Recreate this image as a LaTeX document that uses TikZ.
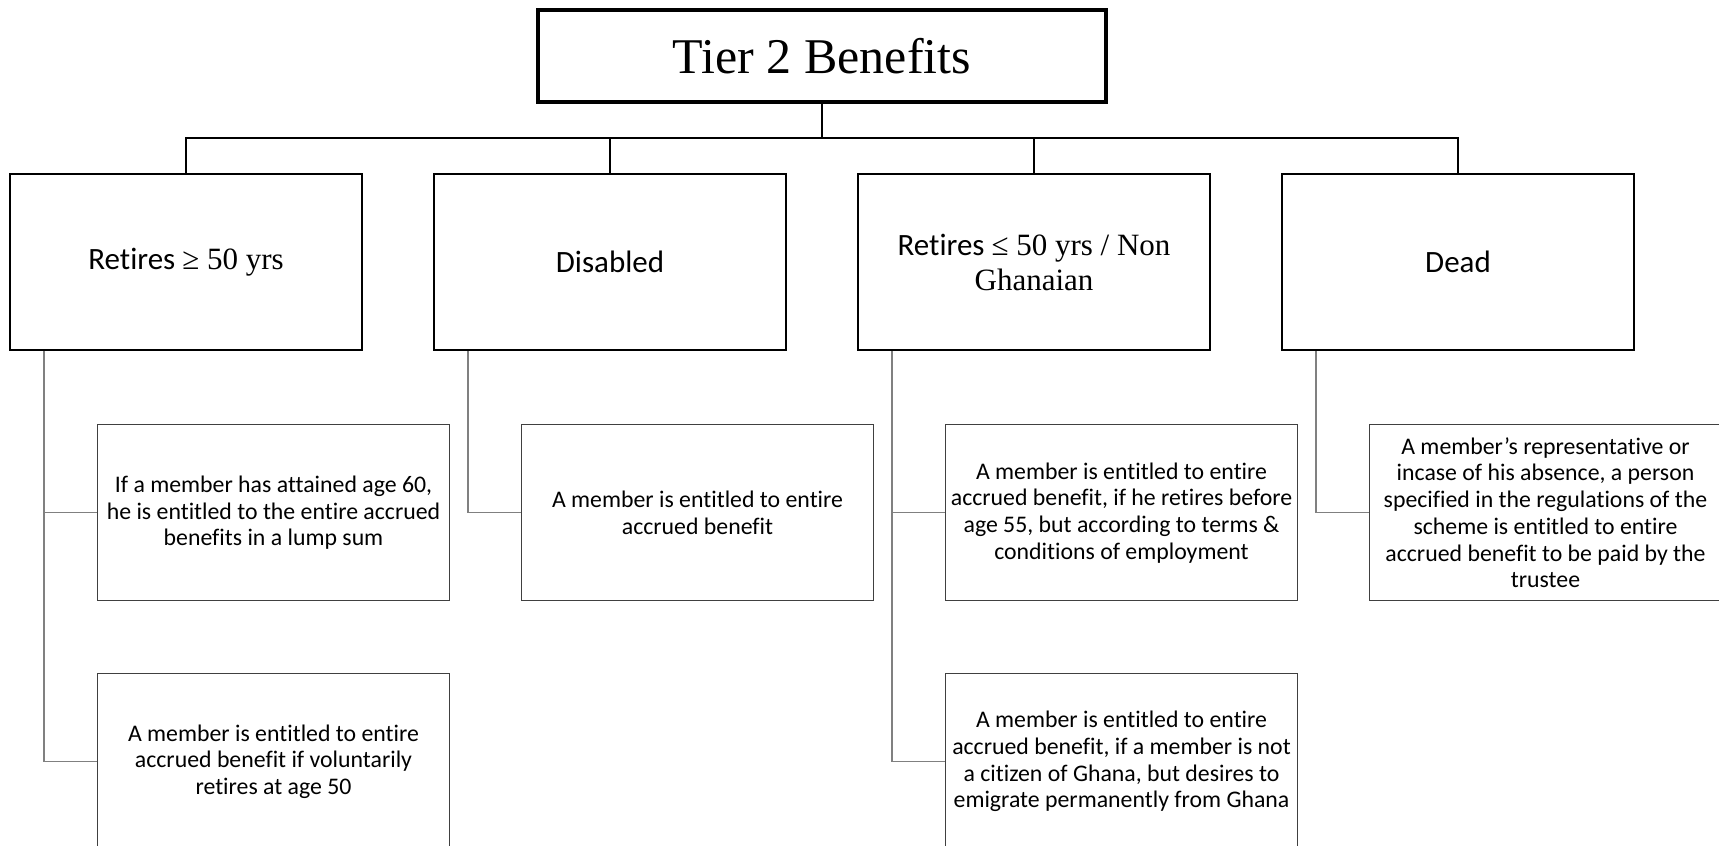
\documentclass[tikz,border=0pt]{standalone}
\usepackage{fontspec}
\setmainfont{Carlito}[Ligatures=CommonOff]
\newfontfamily\timesfont{Liberation Serif}
\tikzset{
  headbox/.style={draw,line width=3.5pt,minimum width=568pt,minimum height=92pt,font=\timesfont\fontsize{50}{58}\selectfont},
  catbox/.style={draw,line width=2.2pt,minimum width=352pt,minimum height=176pt,align=center,font=\fontsize{31}{35}\selectfont},
  notebox/.style={draw=black!75,line width=1.2pt,minimum width=352pt,minimum height=176pt,inner sep=3pt,align=center,anchor=north west,font=\fontsize{23.8}{26.7}\selectfont},
  trunk/.style={line width=2pt},
  twig/.style={draw=black!50,line width=1.2pt}
}
\begin{document}
\begin{tikzpicture}[x=1pt,y=1pt]
        \useasboundingbox (0,0) rectangle (1719,-846);
        \node[headbox] (top) at (822,-56) {Tier 2 Benefits};
        \coordinate (bus) at (822,-138);
        \draw[trunk] (top.south) -- (bus);
        \foreach \x/\txt [count=\i] in {
          186/{Retires {\timesfont ≥ 50 yrs}},
          610/{Disabled},
          1034/{Retires {\timesfont ≤ 50 yrs / Non}\\{\timesfont Ghanaian}},
          1458/{Dead}}{
          \node[catbox] (cat\i) at (\x,-262) {\txt};
          \draw[trunk] (bus) -| (cat\i.north);
        }
        % notes under each category
        \node[notebox] (a1) at ([shift={(88,-73)}]cat1.south west) {If a member has attained age 60,\\he is entitled to the entire accrued\\benefits in a lump sum};
        \node[notebox] (a2) at ([shift={(88,-322)}]cat1.south west) {A member is entitled to entire\\accrued benefit if voluntarily\\retires at age 50};
        \node[notebox] (b1) at ([shift={(88,-73)}]cat2.south west) {A member is entitled to entire\\accrued benefit};
        \node[notebox] (c1) at ([shift={(88,-73)}]cat3.south west) {A member is entitled to entire\\accrued benefit, if he retires before\\age 55, but according to terms \&\\conditions of employment};
        \node[notebox] (c2) at ([shift={(88,-322)}]cat3.south west) {A member is entitled to entire\\accrued benefit, if a member is not\\a citizen of Ghana, but desires to\\emigrate permanently from Ghana};
        \node[notebox] (d1) at ([shift={(88,-73)}]cat4.south west) {A member’s representative or\\incase of his absence, a person\\specified in the regulations of the\\scheme is entitled to entire\\accrued benefit to be paid by the\\trustee};
        \draw[twig] ([xshift=35pt]cat1.south west) |- (a1.west);
        \draw[twig] ([xshift=35pt]cat1.south west) |- (a2.west);
        \draw[twig] ([xshift=35pt]cat2.south west) |- (b1.west);
        \draw[twig] ([xshift=35pt]cat3.south west) |- (c1.west);
        \draw[twig] ([xshift=35pt]cat3.south west) |- (c2.west);
        \draw[twig] ([xshift=35pt]cat4.south west) |- (d1.west);
      \end{tikzpicture}
\end{document}
